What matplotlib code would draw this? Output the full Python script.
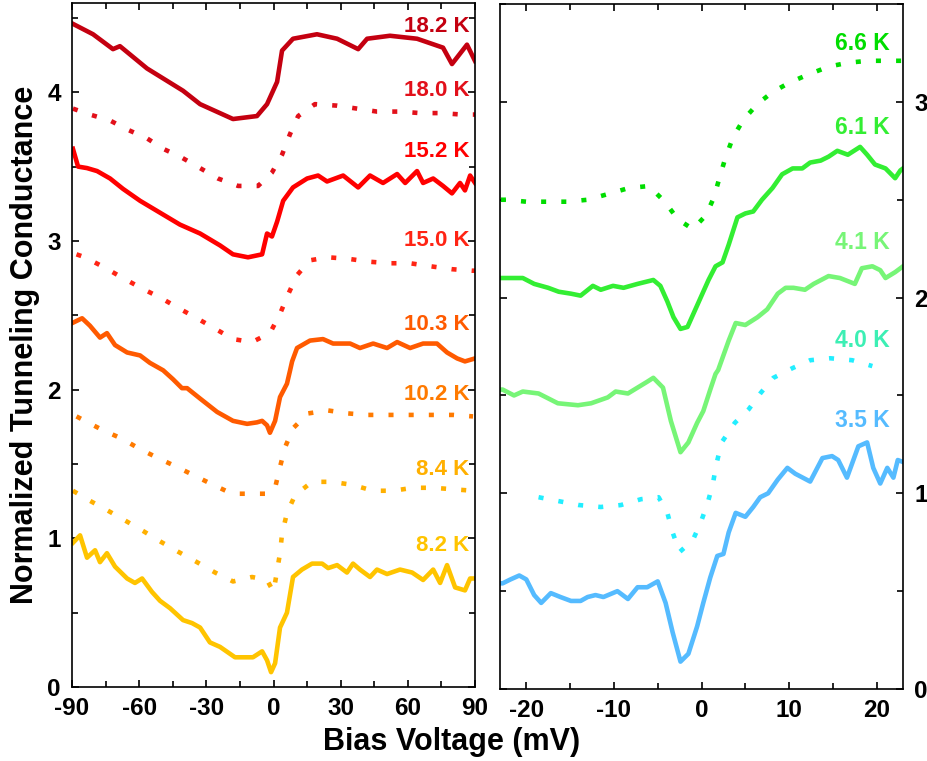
import matplotlib
matplotlib.use("Agg")
import matplotlib.pyplot as plt
from matplotlib.ticker import MultipleLocator

plt.rcParams['font.family'] = ['Liberation Sans', 'DejaVu Sans']
plt.rcParams['font.weight'] = 'bold'

# ---- left panel (high temperature spectra), x in mV ----
x_182 = [-89.6, -80.6, -71.7, -68.6, -56.5, -40.4, -32.8, -18.1, -7.4, -2.9, 1.6, 3.8, 8.7,
         19.4, 28.4, 37.8, 41.8, 52.0, 64.1, 75.7, 79.7, 86.4, 90]
y_182 = [4.46, 4.39, 4.29, 4.31, 4.16, 4.01, 3.92, 3.82, 3.84, 3.92, 4.07, 4.28, 4.36,
         4.39, 4.36, 4.29, 4.36, 4.38, 4.36, 4.30, 4.19, 4.32, 4.21]

x_180 = [-89.6, -82, -73, -65.4, -56.5, -49.3, -40.9, -32.8, -24.8, -15.8, -6.9, -0.7, 3.8,
         7.4, 11, 18.5, 28.4, 37.3, 46.2, 56.5, 65.4, 74.4, 84.2, 90]
y_180 = [3.89, 3.85, 3.81, 3.75, 3.69, 3.62, 3.56, 3.49, 3.42, 3.37, 3.37, 3.46, 3.58,
         3.72, 3.84, 3.92, 3.91, 3.89, 3.87, 3.87, 3.86, 3.86, 3.85, 3.85]

x_152 = [-89.6, -87.3, -83.3, -78.8, -73, -67.2, -59.6, -50.7, -41.8, -32.8, -23.9, -18.1,
         -11.4, -5.1, -2.9, -0.7, 1.6, 4.3, 8.7, 15, 19.9, 23.9, 31.1, 37.8, 43.1, 48.9,
         55.2, 58.8, 64.1, 66.8, 71.3, 75.7, 79.7, 83.3, 85.5, 87.8, 90]
y_152 = [3.62, 3.50, 3.49, 3.47, 3.42, 3.35, 3.27, 3.19, 3.11, 3.05, 2.97, 2.91,
         2.89, 2.91, 3.05, 3.03, 3.13, 3.27, 3.36, 3.42, 3.44, 3.40, 3.44, 3.36, 3.44, 3.39,
         3.45, 3.39, 3.47, 3.39, 3.42, 3.37, 3.32, 3.39, 3.34, 3.44, 3.39]

x_150 = [-88, -84.2, -75.3, -67.2, -58.7, -50.7, -42.6, -34.2, -26.1, -18.1, -9.6, -1.6, 2.9,
         6.5, 10.5, 16.3, 24.4, 33.3, 43.1, 52, 61, 69.9, 79.7, 88.7, 90]
y_150 = [2.91, 2.89, 2.82, 2.75, 2.68, 2.62, 2.55, 2.48, 2.41, 2.34, 2.32, 2.38, 2.51,
         2.64, 2.77, 2.87, 2.89, 2.88, 2.86, 2.85, 2.85, 2.83, 2.81, 2.80, 2.80]

x_103 = [-89.6, -85.5, -82, -77.5, -74.4, -70.8, -65.4, -59.6, -55.2, -49.3, -44.9, -40.9,
         -38.6, -32.8, -25.2, -18.1, -11.8, -7.4, -5.1, -2.9, -1.6, 0.7, 2.9, 6, 7.4, 8.3,
         10.5, 16.3, 22.1, 26.6, 34.2, 38.6, 44.5, 50.7, 55.2, 61, 66.8, 73, 77.5, 82, 85.5, 90]
y_103 = [2.45, 2.48, 2.43, 2.35, 2.38, 2.30, 2.25, 2.23, 2.18, 2.13, 2.07, 2.01,
         2.01, 1.94, 1.85, 1.79, 1.77, 1.78, 1.79, 1.76, 1.71, 1.79, 1.95, 2.04, 2.13, 2.19,
         2.28, 2.33, 2.34, 2.31, 2.31, 2.28, 2.31, 2.28, 2.32, 2.28, 2.31, 2.31, 2.25, 2.21, 2.19, 2.21]

x_102 = [-88, -85.5, -76.6, -67.7, -59.6, -51.6, -43.1, -35.1, -27, -18.5, -10.5, -2.9, 0.7,
         2.9, 5.1, 8.7, 15.4, 24.4, 33.3, 42.2, 52, 61, 70.8, 80.2, 89.1]
y_102 = [1.82, 1.80, 1.73, 1.67, 1.60, 1.54, 1.48, 1.42, 1.36, 1.30, 1.30, 1.30, 1.34,
         1.48, 1.61, 1.74, 1.84, 1.86, 1.84, 1.83, 1.83, 1.83, 1.83, 1.83, 1.82]

x_84 = [-89.6, -82.9, -74.4, -66.3, -58.3, -50.7, -42.6, -34.2, -26.1, -18.1, -9.6, -2.9, 0.0,
        2.9, 3.8, 6, 9.6, 17.2, 26.1, 35.1, 44.5, 53.4, 62.3, 71.3, 80.2, 89.1, 90]
y_84 = [1.32, 1.26, 1.19, 1.12, 1.05, 0.98, 0.91, 0.84, 0.77, 0.71, 0.74, 0.72, 0.64,
        0.90, 1.03, 1.17, 1.29, 1.38, 1.38, 1.36, 1.32, 1.32, 1.34, 1.34, 1.33, 1.32, 1.32]

x_82 = [-89.6, -86.4, -83.3, -79.7, -77.5, -74.4, -70.8, -65.4, -61.9, -58.7, -54.3, -50.7,
        -46.2, -40.4, -36.4, -32.8, -28.4, -23.9, -17.2, -11.8, -9.2, -5.1, -2.9, -1.1, 0.7,
        2.9, 6.0, 8.7, 12.7, 17.2, 21.7, 24.4, 28.4, 32.8, 35.5, 38.6, 43.1, 46.2, 50.7, 56.5,
        61.9, 66.8, 71.3, 74.4, 77.5, 81.1, 85.5, 87.8, 90]
y_82 = [0.97, 1.02, 0.87, 0.92, 0.84, 0.90, 0.81, 0.73, 0.70, 0.73, 0.64, 0.58,
        0.53, 0.45, 0.43, 0.40, 0.30, 0.27, 0.20, 0.20, 0.20, 0.24, 0.18, 0.10, 0.16,
        0.40, 0.50, 0.74, 0.79, 0.83, 0.83, 0.80, 0.82, 0.77, 0.83, 0.79, 0.74, 0.79, 0.76, 0.79,
        0.77, 0.72, 0.79, 0.70, 0.82, 0.67, 0.65, 0.73, 0.73]

# ---- right panel (low temperature spectra) ----
x_66 = [-22.9, -22.3, -20, -17.5, -15.3, -13, -10.6, -8.3, -6, -4.2, -2.7, -1.0, 0.5, 1.4, 2.1,
        2.7, 3.6, 4.8, 6.4, 8.1, 10.1, 12.2, 14.5, 16.7, 19.0, 21.5, 23]
y_66 = [2.50, 2.50, 2.49, 2.49, 2.49, 2.50, 2.53, 2.56, 2.57, 2.49, 2.40, 2.35, 2.42, 2.51, 2.62,
        2.71, 2.82, 2.91, 2.99, 3.05, 3.10, 3.14, 3.18, 3.20, 3.21, 3.21, 3.21]

x_61 = [-22.9, -22.7, -20.4, -19.1, -17.5, -16.3, -14.9, -13.8, -12.4, -11.5, -10.1, -8.9, -7.3,
        -6.4, -5.5, -4.7, -3.9, -3.2, -2.4, -1.6, -0.9, 0.1, 0.8, 1.6, 2.4, 3.1, 4.1, 5.0, 5.9,
        6.9, 8.1, 9.2, 10.4, 11.5, 12.4, 13.6, 14.5, 15.5, 16.7, 18.1, 18.9, 19.8, 21.0, 22.1,
        22.7, 23]
y_61 = [2.10, 2.10, 2.10, 2.07, 2.05, 2.03, 2.02, 2.01, 2.06, 2.04, 2.06, 2.05, 2.07,
        2.08, 2.09, 2.06, 1.98, 1.90, 1.84, 1.85, 1.92, 2.02, 2.09, 2.16, 2.18, 2.27, 2.41, 2.43, 2.44,
        2.50, 2.56, 2.63, 2.66, 2.66, 2.69, 2.70, 2.72, 2.75, 2.73, 2.77, 2.73, 2.68, 2.66, 2.61,
        2.65, 2.66]

x_41 = [-22.9, -22.7, -21.4, -20.4, -18.6, -16.4, -14.1, -12.6, -10.7, -9.8, -8.4, -7.3, -6.2,
        -5.5, -4.4, -3.5, -2.4, -1.5, -0.5, 0.2, 1.0, 1.6, 1.9, 3.1, 3.9, 5.0, 6.4, 7.5, 8.7, 9.6,
        10.5, 11.8, 12.8, 14.5, 15.8, 17.5, 18.3, 19.5, 20.4, 21.0, 22.1, 22.7, 23]
y_41 = [1.53, 1.53, 1.50, 1.52, 1.51, 1.46, 1.45, 1.46, 1.49, 1.52, 1.51, 1.54, 1.57,
        1.59, 1.54, 1.37, 1.21, 1.26, 1.36, 1.42, 1.53, 1.61, 1.63, 1.78, 1.87, 1.86, 1.90, 1.94,
        2.02, 2.05, 2.05, 2.04, 2.07, 2.11, 2.10, 2.07, 2.15, 2.16, 2.14, 2.10, 2.13, 2.15, 2.16]

x_40 = [-18.6, -16.3, -14.0, -11.5, -9.2, -6.9, -4.9, -3.9, -3.3, -2.5, -1.0, -0.1, 0.7, 1.3,
        1.7, 2.3, 3.8, 5.4, 6.7, 8.2, 10.4, 12.4, 14.7, 17.2, 19.5]
y_40 = [0.98, 0.96, 0.94, 0.93, 0.94, 0.97, 0.98, 0.90, 0.80, 0.70, 0.76, 0.85, 0.95, 1.05,
        1.15, 1.26, 1.36, 1.43, 1.51, 1.59, 1.64, 1.68, 1.69, 1.68, 1.65]

x_35 = [-22.9, -22.7, -21.8, -20.8, -20, -19.1, -18.3, -17.2, -16.1, -14.9, -13.8, -13, -12.1,
        -11.2, -9.6, -8.4, -7.3, -6.2, -5.0, -4.1, -3.3, -2.4, -1.5, -0.5, 0.2, 1.0, 1.8, 2.5,
        3.1, 3.9, 5.0, 5.9, 6.7, 7.6, 8.7, 9.8, 10.7, 12.4, 13.8, 14.9, 15.6, 16.6, 17.9, 18.9,
        19.6, 20.4, 21.2, 21.9, 22.4, 23]
y_35 = [0.54, 0.54, 0.56, 0.58, 0.56, 0.48, 0.44, 0.49, 0.47, 0.45, 0.45, 0.47, 0.48,
        0.47, 0.50, 0.46, 0.52, 0.52, 0.55, 0.44, 0.29, 0.14, 0.18, 0.32, 0.44, 0.57, 0.68, 0.69,
        0.80, 0.90, 0.88, 0.93, 0.98, 1.00, 1.07, 1.13, 1.10, 1.06, 1.18, 1.19, 1.17, 1.08, 1.24, 1.26,
        1.13, 1.05, 1.13, 1.08, 1.17, 1.16]

# label text, y position of label, colour, dotted?
left_curves = [
    (x_182, y_182, '18.2 K', 4.44, '#C40010', False),
    (x_180, y_180, '18.0 K', 4.01, '#E2101A', True),
    (x_152, y_152, '15.2 K', 3.60, '#FF0000', False),
    (x_150, y_150, '15.0 K', 3.00, '#FF2414', True),
    (x_103, y_103, '10.3 K', 2.44, '#FF5A00', False),
    (x_102, y_102, '10.2 K', 1.97, '#FF7A00', True),
    (x_84, y_84, '8.4 K', 1.46, '#FFB000', True),
    (x_82, y_82, '8.2 K', 0.95, '#FFC400', False),
]
right_curves = [
    (x_66, y_66, '6.6 K', 3.30, '#00DD00', '#00DD00', True),
    (x_61, y_61, '6.1 K', 2.87, '#33EE33', '#33EE33', False),
    (x_41, y_41, '4.1 K', 2.28, '#77F577', '#77F577', False),
    (x_40, y_40, '4.0 K', 1.78, '#22EEFF', '#3CEFB4', True),
    (x_35, y_35, '3.5 K', 1.37, '#55BBFF', '#55BBFF', False),
]

DOT = (0, (1.1, 3.3))

fig = plt.figure(figsize=(9.28, 7.61), dpi=100)
ax1 = fig.add_axes([0.0776, 0.0972, 0.4343, 0.8988])
ax2 = fig.add_axes([0.5388, 0.0946, 0.4343, 0.9001])

for xs, ys, lab, ly, c, dotted in left_curves:
    if dotted:
        ax1.plot(xs, ys, color=c, lw=3.3, ls=DOT, dash_capstyle='butt')
    else:
        ax1.plot(xs, ys, color=c, lw=3.3, solid_joinstyle='round')
    ax1.text(87.5, ly, lab, color=c, fontsize=16, fontweight='bold', ha='right', va='center')

for xs, ys, lab, ly, c, tc, dotted in right_curves:
    if dotted:
        ax2.plot(xs, ys, color=c, lw=3.3, ls=DOT, dash_capstyle='butt')
    else:
        ax2.plot(xs, ys, color=c, lw=3.3, solid_joinstyle='round')
    ax2.text(21.5, ly, lab, color=tc, fontsize=16.5, fontweight='bold', ha='right', va='center')

ax1.set_xlim(-90, 90)
ax1.set_ylim(0, 4.6)
ax1.xaxis.set_major_locator(MultipleLocator(30))
ax1.xaxis.set_minor_locator(MultipleLocator(15))
ax1.yaxis.set_major_locator(MultipleLocator(1))
ax1.yaxis.set_minor_locator(MultipleLocator(0.5))

ax2.set_xlim(-23, 23)
ax2.set_ylim(0, 3.5)
ax2.xaxis.set_major_locator(MultipleLocator(10))
ax2.xaxis.set_minor_locator(MultipleLocator(5))
ax2.yaxis.set_major_locator(MultipleLocator(1))
ax2.yaxis.set_minor_locator(MultipleLocator(0.5))

for ax in (ax1, ax2):
    for s in ax.spines.values():
        s.set_linewidth(1.2)
    ax.tick_params(which='both', direction='in', top=True, right=True, left=True, bottom=True,
                   width=1.2, labelsize=17.5)
    ax.tick_params(axis='x', pad=7)
    ax.tick_params(axis='y', pad=8)
    ax.tick_params(which='major', length=5)
    ax.tick_params(which='minor', length=4)

ax2.tick_params(axis='y', labelleft=False, labelright=True)
ax1.set_xticks([-90, -60, -30, 0, 30, 60, 90])
ax1.set_xticklabels(['-90', '-60', '-30', '0', '30', '60', '90'], fontweight='bold')
ax2.set_xticks([-20, -10, 0, 10, 20])
ax2.set_xticklabels(['-20', '-10', '0', '10', '20'], fontweight='bold')
for ax in (ax1, ax2):
    for t in ax.get_xticklabels() + ax.get_yticklabels():
        t.set_fontweight('bold')

fig.text(0.487, 0.025, 'Bias Voltage (mV)', ha='center', va='center', fontsize=22, fontweight='bold')
fig.text(0.027, 0.547, 'Normalized Tunneling Conductance', ha='center', va='center',
         rotation=90, fontsize=22, fontweight='bold')

fig.savefig('out.png', dpi=100)
